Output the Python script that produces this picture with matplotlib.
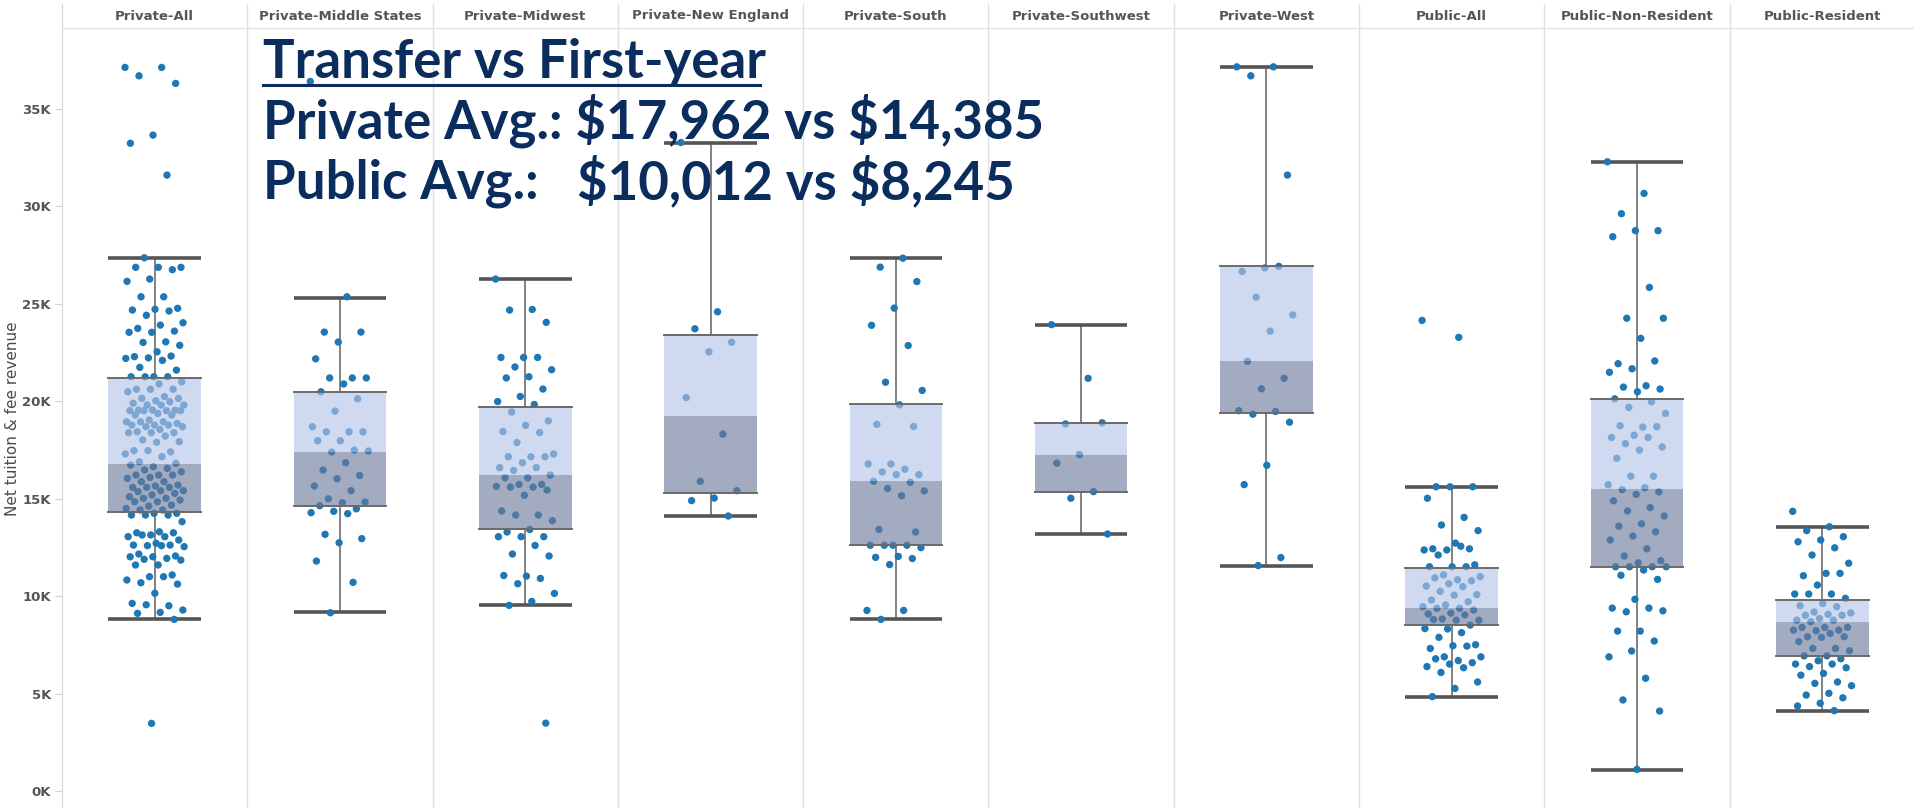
import numpy as np
import matplotlib
matplotlib.use("Agg")
import matplotlib.pyplot as plt
from matplotlib.lines import Line2D
from matplotlib.patches import Rectangle

# panel names
groups = ['Private-All', 'Private-Middle States', 'Private-Midwest', 'Private-New England',
          'Private-South', 'Private-Southwest', 'Private-West', 'Public-All',
          'Public-Non-Resident', 'Public-Resident']

# box stats in $K
whisk_lo = [8.83, 9.18, 9.58, 14.12, 8.82, 13.2, 11.56, 4.82, 1.1, 4.14]
q1 = [14.34, 14.65, 13.46, 15.28, 12.62, 15.37, 19.4, 8.53, 11.52, 6.96]
med = [16.8, 17.42, 16.2, 19.24, 15.93, 17.23, 22.06, 9.42, 15.48, 8.67]
q3 = [21.18, 20.49, 19.7, 23.4, 19.87, 18.9, 26.92, 11.44, 20.13, 9.81]
whisk_hi = [27.36, 25.31, 26.27, 33.27, 27.36, 23.93, 37.15, 15.62, 32.28, 13.57]

# net tuition & fee revenue per school, $K
private_all = [37.12, 37.12, 36.69, 36.3, 33.65, 33.23, 31.6, 27.36, 26.87, 26.87, 26.87, 26.75,
               26.27, 26.15, 25.36, 25.36, 24.77, 24.72, 24.68, 24.63, 24.41, 24.03, 23.91, 23.74,
               23.6, 23.54, 23.54, 23.05, 23.02, 22.87, 22.54, 22.29, 22.32, 22.23, 22.2, 22.1,
               21.74, 21.6, 21.26, 21.26, 21.26, 21.26, 21.0, 20.89, 20.62, 20.62, 20.62, 20.49,
               20.24, 20.15, 20.15, 20.03, 19.9, 19.98, 19.81, 19.81, 19.81, 19.55, 19.55, 19.55,
               19.52, 19.52, 19.52, 19.52, 19.38, 19.3, 19.3, 19.04, 18.95, 18.95, 18.95, 18.87,
               18.78, 18.78, 18.78, 18.7, 18.7, 18.56, 18.44, 18.39, 18.39, 18.39, 18.22, 18.02,
               17.93, 17.9, 17.47, 17.41, 17.47, 17.3, 17.16, 16.9, 16.82, 16.65, 16.73, 16.56,
               16.48, 16.39, 16.22, 16.22, 16.22, 16.1, 16.05, 15.88, 15.88, 15.71, 15.66, 15.59,
               15.59, 15.59, 15.42, 15.42, 15.37, 15.28, 15.2, 15.11, 15.03, 15.03, 14.94, 14.85,
               14.85, 14.68, 14.63, 14.51, 14.43, 14.43, 14.26, 14.26, 14.17, 14.17, 14.17, 13.83,
               13.31, 13.26, 13.26, 13.15, 13.06, 13.06, 13.15, 12.89, 12.72, 12.63, 12.63, 12.6,
               12.55, 12.6, 12.17, 12.07, 12.03, 12.03, 11.95, 11.9, 11.86, 11.61, 11.61, 11.1,
               11.01, 10.84, 11.01, 10.7, 10.63, 10.16, 9.64, 9.52, 9.57, 9.3, 9.18, 9.13, 8.82,
               3.49]
private_middle = [36.4, 25.36, 23.55, 23.55, 23.04, 22.18, 21.2, 21.2, 21.2, 20.89, 20.49, 20.13,
                  19.5, 18.7, 18.44, 18.44, 18.44, 17.98, 17.98, 17.5, 17.4, 17.45, 16.85, 16.48,
                  16.2, 16.03, 15.66, 15.42, 15.0, 14.84, 14.8, 14.65, 14.49, 14.36, 14.29, 14.24,
                  13.18, 12.96, 12.75, 11.81, 10.72, 9.16]
private_midwest = [26.27, 24.71, 24.68, 24.05, 22.25, 22.25, 22.25, 21.76, 21.62, 21.26, 21.2,
                   20.63, 20.25, 19.99, 19.84, 19.45, 19.0, 18.77, 18.45, 18.4, 17.89, 17.3, 17.16,
                   17.16, 17.16, 16.85, 16.6, 16.6, 16.46, 16.22, 16.08, 16.08, 15.74, 15.74, 15.64,
                   15.6, 15.6, 15.45, 15.18, 14.38, 14.17, 14.17, 13.88, 13.43, 13.3, 13.06, 13.06,
                   13.06, 12.61, 12.17, 12.07, 11.04, 11.07, 10.92, 10.65, 10.15, 9.74, 9.54, 3.5]
private_new_england = [33.27, 24.59, 23.72, 23.03, 22.54, 20.19, 18.32, 15.9, 15.42, 15.04,
                       14.91, 14.12]
private_south = [33.68, 27.34, 26.88, 26.14, 24.78, 23.9, 22.86, 20.98, 20.56, 19.82, 18.82,
                 18.71, 16.79, 16.79, 16.52, 16.38, 16.24, 16.24, 15.9, 15.85, 15.53, 15.41, 15.16,
                 13.43, 13.3, 12.62, 12.62, 12.62, 12.62, 12.5, 12.05, 12.0, 11.94, 11.63, 9.28,
                 9.28, 8.82]
private_southwest = [23.93, 21.18, 18.84, 18.9, 17.27, 16.83, 15.37, 15.03, 13.2]
private_west = [37.15, 37.15, 36.69, 31.6, 26.84, 26.66, 26.92, 25.34, 24.43, 23.6, 22.05, 21.18,
                20.64, 19.52, 19.48, 19.34, 18.93, 16.72, 15.73, 11.99, 11.58]
public_all = [24.15, 23.28, 15.62, 15.62, 15.62, 15.03, 14.05, 13.66, 13.37, 12.73, 12.44, 12.44,
              12.38, 12.38, 12.57, 12.12, 11.62, 11.52, 11.52, 11.52, 11.1, 11.01, 10.85, 10.95,
              10.8, 10.65, 10.53, 10.5, 10.26, 10.09, 10.06, 9.81, 9.73, 9.56, 9.47, 9.39, 9.39,
              9.3, 9.14, 9.1, 9.05, 8.84, 8.78, 8.78, 8.81, 8.53, 8.33, 8.35, 8.14, 7.9, 7.52,
              7.47, 7.33, 7.45, 6.9, 6.9, 6.71, 6.8, 6.6, 6.53, 6.4, 6.34, 6.1, 5.61, 5.28, 4.86]
public_nonres = [32.28, 30.66, 29.62, 28.75, 28.75, 28.44, 25.84, 24.26, 24.26, 23.23, 21.93,
                 22.07, 21.67, 21.49, 20.8, 20.73, 20.63, 20.49, 20.13, 19.98, 19.69, 19.38, 18.68,
                 18.75, 18.7, 18.26, 18.15, 18.15, 17.83, 17.66, 17.5, 17.08, 16.16, 16.16, 15.72,
                 15.57, 15.47, 15.36, 15.23, 14.9, 14.55, 14.38, 14.12, 13.72, 13.6, 13.31, 13.09,
                 12.89, 12.44, 12.07, 11.83, 11.72, 11.52, 11.52, 11.52, 11.52, 11.35, 11.08, 10.87,
                 9.85, 9.4, 9.4, 9.21, 9.26, 8.22, 8.22, 7.71, 7.2, 6.9, 5.8, 4.69, 4.12, 1.13]
public_res = [14.36, 13.57, 13.37, 13.06, 12.89, 12.8, 12.49, 12.12, 11.7, 11.18, 11.06, 11.18,
              10.58, 10.12, 10.12, 10.12, 9.9, 9.64, 9.52, 9.47, 9.2, 9.15, 9.08, 9.03, 9.03,
              8.87, 8.78, 8.78, 8.7, 8.41, 8.41, 8.41, 8.27, 8.24, 8.27, 8.1, 7.93, 7.93, 7.9,
              7.68, 7.33, 7.33, 7.21, 6.95, 6.95, 6.8, 6.7, 6.53, 6.53, 6.4, 6.34, 6.05, 5.96,
              5.61, 5.54, 5.42, 5.03, 4.94, 4.8, 4.52, 4.38, 4.14]

values = [private_all, private_middle, private_midwest, private_new_england, private_south,
          private_southwest, private_west, public_all, public_nonres, public_res]

yticks = [0, 5, 10, 15, 20, 25, 30, 35]

navy = '#0a2d5e'
dot_color = '#1f77b4'
grid_color = '#e0e0e0'
W, H = 1915, 808

fig = plt.figure(figsize=(W / 100, H / 100), dpi=100)
left = 62 / W
ax = fig.add_axes([left, 0, 1 - left, 1 - 29 / H])
hdr = fig.add_axes([left, 1 - 28 / H, 1 - left, 24 / H])

n = len(groups)
box_w = 0.5
for i in range(n):
    c = i + 0.5
    v = np.array(values[i])
    # deterministic spread so the dots don't pile on one line
    jit = ((np.arange(len(v)) * 0.6180339887) % 1 - 0.5) * 0.32
    ax.plot([c, c], [whisk_lo[i], q1[i]], color='#777777', lw=1.3, zorder=1)
    ax.plot([c, c], [q3[i], whisk_hi[i]], color='#777777', lw=1.3, zorder=1)
    for y in (whisk_lo[i], whisk_hi[i]):
        ax.plot([c - box_w / 2, c + box_w / 2], [y, y], color='#555555', lw=2.6, zorder=1,
                solid_capstyle='butt')
    ax.scatter(c + jit, v, s=28, color=dot_color, edgecolors='none', zorder=2)
    ax.add_patch(Rectangle((c - box_w / 2, med[i]), box_w, q3[i] - med[i],
                           facecolor='#b3c3e6', alpha=0.63, lw=0, zorder=3))
    ax.add_patch(Rectangle((c - box_w / 2, q1[i]), box_w, med[i] - q1[i],
                           facecolor='#6d7a9b', alpha=0.63, lw=0, zorder=3))
    for y in (q1[i], q3[i]):
        ax.plot([c - box_w / 2, c + box_w / 2], [y, y], color='#6a6a6a', lw=1.4, zorder=4)
    hdr.text(c, 0.5, groups[i], ha='center', va='center', fontsize=9.5, fontweight='bold',
             color='#555555')

for a in (ax, hdr):
    a.set_xlim(0, n)
    for b in range(1, n):
        a.axvline(b, color=grid_color, lw=1, zorder=0)
    for s in ('top', 'right', 'bottom'):
        a.spines[s].set_visible(False)
    a.spines['left'].set_color('#d4d4d4')
    a.set_xticks([])

hdr.set_ylim(0, 1)
hdr.set_yticks([])
hdr.spines['bottom'].set_visible(True)
hdr.spines['bottom'].set_color(grid_color)

ax.set_ylim(-0.85, 39.09)
ax.set_yticks(yticks)
ax.set_yticklabels([f'{t}K' for t in yticks], fontsize=9.5, fontweight='bold', color='#555555')
ax.tick_params(axis='y', length=5, color='#d4d4d4', pad=3)
ax.set_ylabel('Net tuition & fee revenue', fontsize=11, color='#4a4a4a')
ax.yaxis.set_label_coords(-0.0225, 0.5)

# headline text
tkw = dict(family='Lato', fontweight='bold', color=navy, va='baseline', fontsize=38)
fig.text(263 / W, 1 - 78 / H, 'Transfer vs First-year', **tkw)
fig.add_artist(Line2D([263 / W, 760 / W], [1 - 85 / H, 1 - 85 / H], color=navy, lw=2.2))
fig.text(263 / W, 1 - 138 / H, r'Private Avg.: \$17,962 vs \$14,385', **tkw)
fig.text(263 / W, 1 - 199 / H, 'Public Avg.:', **tkw)
fig.text(577 / W, 1 - 199 / H, r'\$10,012 vs \$8,245', **tkw)

fig.savefig('out.png', dpi=100)
